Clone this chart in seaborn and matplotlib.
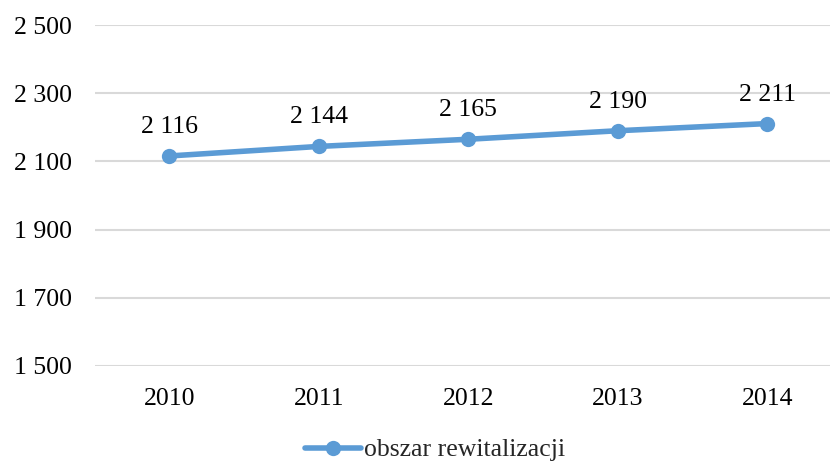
import pandas as pd
import seaborn as sns
import matplotlib.pyplot as plt

# dane
years = ['2010', '2011', '2012', '2013', '2014']
values = [2116, 2144, 2165, 2190, 2211]
series_name = 'obszar rewitalizacji'
y_ticks = [1500, 1700, 1900, 2100, 2300, 2500]

df = pd.DataFrame({'rok': years, 'wartosc': values})

sns.set_style('white')
plt.rcParams['font.family'] = ['Liberation Serif', 'DejaVu Serif']

blue = '#5B9BD5'
fig = plt.figure(figsize=(8.3, 4.62), dpi=100)
ax = fig.add_axes([0.1139, 0.2078, 0.9006, 0.738])

sns.lineplot(data=df, x='rok', y='wartosc', ax=ax, color=blue, linewidth=4,
             marker='o', markersize=11, markeredgewidth=0, label=series_name,
             legend=False)

fmt = lambda v: f'{v:,}'.replace(',', ' ')
for i, v in enumerate(values):
    ax.annotate(fmt(v), (i, v), xytext=(0, 13), textcoords='offset points',
                ha='center', va='bottom', fontsize=18.5, color='black')

ax.set_ylim(1500, 2500)
ax.set_xlim(-0.5, len(years) - 0.5)
ax.set_yticks(y_ticks)
ax.set_yticklabels([fmt(t) for t in y_ticks])
ax.yaxis.grid(True, color='#d9d9d9', linewidth=1.5)
ax.xaxis.grid(False)
ax.tick_params(axis='both', length=0, labelsize=18.5, colors='black')
ax.tick_params(axis='y', pad=16)
ax.tick_params(axis='x', pad=16)
ax.set_xlabel('')
ax.set_ylabel('')
sns.despine(ax=ax, left=True, bottom=True, top=True, right=True)

handles, labels = ax.get_legend_handles_labels()
fig.legend(handles, labels, loc='center', bbox_to_anchor=(435 / 830, 1 - 450 / 462),
           frameon=False, fontsize=18.5, handlelength=2.2, handletextpad=0.1)

fig.savefig('out.png', dpi=100)
